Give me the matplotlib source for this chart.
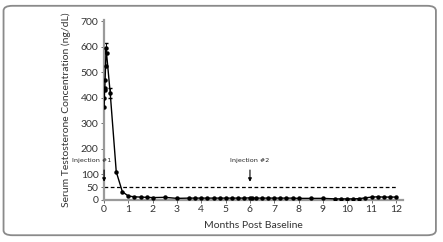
import matplotlib.pyplot as plt
from matplotlib.patches import FancyBboxPatch
import numpy as np

# months post baseline / serum testosterone (ng/dL)
months = [0, 0.01, 0.02, 0.03, 0.04, 0.06, 0.08, 0.1, 0.25, 0.5, 0.75, 1.0,
          1.25, 1.5, 1.75, 2.0, 2.5, 3.0, 3.5, 3.75, 4.0, 4.25, 4.5, 4.75,
          5.0, 5.25, 5.5, 5.75, 6.0, 6.1, 6.25, 6.5, 6.75, 7.0, 7.25, 7.5,
          7.75, 8.0, 8.5, 9.0, 9.5, 9.75, 10.0, 10.25, 10.5, 10.75, 11.0,
          11.25, 11.5, 11.75, 12.0]
testo = [365, 400, 430, 440, 470, 525, 595, 575, 420, 110, 32, 15,
         12, 11, 10, 9, 10, 6, 7, 7, 7, 7, 7, 7,
         7, 7, 7, 7, 8, 7, 7, 7, 7, 7, 7, 7,
         7, 6, 6, 6, 4, 4, 4, 4, 5, 8, 11,
         12, 11, 11, 11]
err_x = [0.08, 0.25]
err_y = [595, 420]
err_e = [20, 20]

castrate = 50
yticks = [0, 50, 100, 200, 300, 400, 500, 600, 700]
xticks = list(range(0, 13))

plt.rcParams['font.family'] = ['Lato', 'DejaVu Sans']
fig = plt.figure(figsize=(4.43, 2.42), dpi=100)

# rounded frame around the figure
frame = FancyBboxPatch((0.008, 0.028), 0.976, 0.948, boxstyle='round,pad=0,rounding_size=0.02',
                       transform=fig.transFigure, facecolor='none', edgecolor='#8a8a8a',
                       linewidth=1.3, zorder=-1)
fig.patches.append(frame)

ax = fig.add_axes([0.235, 0.174, 0.675, 0.743])
ax.patch.set_alpha(0)

ax.plot(months, testo, color='black', lw=1.0, marker='o', ms=2.2, zorder=3)
ax.errorbar(err_x, err_y, yerr=err_e, fmt='none', ecolor='black', elinewidth=0.7, capsize=1.5)
ax.plot([0, 12], [castrate, castrate], color='black', lw=0.9, ls=(0, (3, 2)))

# injection markers
for xi in [0, 6]:
    ax.annotate('', xy=(xi, 60), xytext=(xi, 128),
                arrowprops=dict(arrowstyle='-|>', color='black', lw=0.8, mutation_scale=5))
for xi, lab, ha in [(0.3, 'Injection #1', 'right'), (6, 'Injection #2', 'center')]:
    ax.text(xi, 153, lab, fontsize=4.6, ha=ha, va='center', clip_on=False,
            family=['Liberation Sans Narrow', 'DejaVu Sans'], color='#222222')

ax.set_xlim(0, 12.3)
ax.set_ylim(0, 705)
ax.set_xticks(xticks)
ax.set_yticks(yticks)
ax.tick_params(labelsize=7.5, length=2, width=0.6, color='#555555', pad=2, labelcolor='#333333')

for s in ['top', 'right']:
    ax.spines[s].set_visible(False)
for s in ['left', 'bottom']:
    ax.spines[s].set_color('#9a9a9a')
    ax.spines[s].set_linewidth(1.6)

ax.set_xlabel('Months Post Baseline', fontsize=7.5, color='#333333', labelpad=5)
ax.set_ylabel('Serum Testosterone Concentration (ng/dL)', fontsize=7.5, color='#333333', labelpad=7)

fig.savefig('out.png', dpi=100)
